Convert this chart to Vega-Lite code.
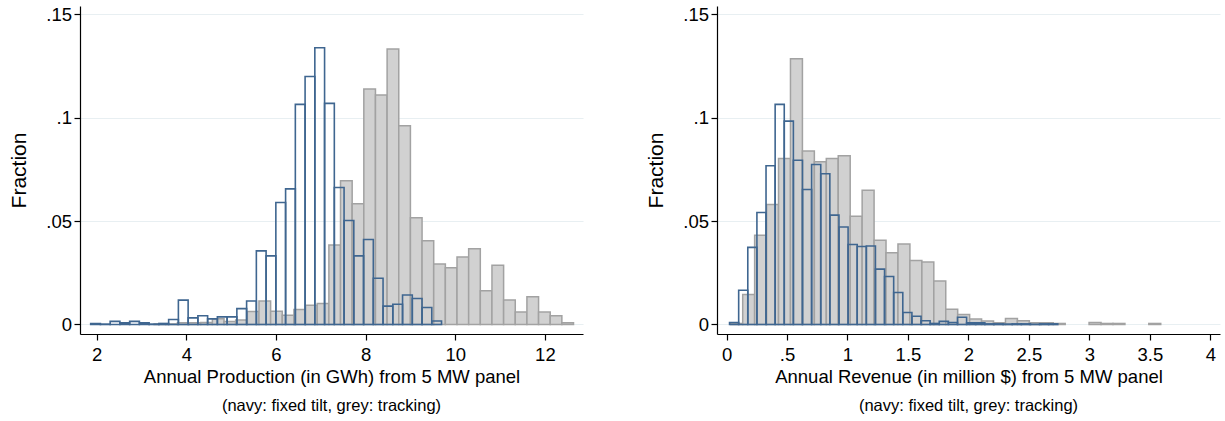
{
  "$schema": "https://vega.github.io/schema/vega-lite/v6.json",
  "padding": {"left": 8, "top": 5, "right": 2, "bottom": 0},
  "background": "white",
  "spacing": 62,
  "config": {
    "view": {"stroke": null},
    "font": "Liberation Sans",
    "axis": {
      "domainColor": "#000000", "tickColor": "#000000", "labelColor": "#000000", "titleColor": "#000000",
      "labelFont": "Liberation Sans", "titleFont": "Liberation Sans", "titleFontWeight": "normal",
      "labelFontSize": 18.5, "tickSize": 6, "domainWidth": 1.2, "tickWidth": 1.2,
      "gridColor": "#e8eff2", "gridWidth": 1.2, "labelOverlap": false, "labelFlush": false
    },
    "title": {"font": "Liberation Sans", "fontWeight": "normal", "fontSize": 16.5, "color": "#000000"}
  },
  "datasets": {
    "production": [
      {"series": "fixed tilt", "lo": 1.866, "hi": 2.0834, "fraction": 0.0004},
      {"series": "fixed tilt", "lo": 2.0834, "hi": 2.3009, "fraction": 0.0002},
      {"series": "fixed tilt", "lo": 2.3009, "hi": 2.5183, "fraction": 0.0015},
      {"series": "fixed tilt", "lo": 2.5183, "hi": 2.7358, "fraction": 0.0008},
      {"series": "fixed tilt", "lo": 2.7358, "hi": 2.9532, "fraction": 0.0015},
      {"series": "fixed tilt", "lo": 2.9532, "hi": 3.1706, "fraction": 0.0008},
      {"series": "fixed tilt", "lo": 3.1706, "hi": 3.3881, "fraction": 0.0002},
      {"series": "fixed tilt", "lo": 3.3881, "hi": 3.6055, "fraction": 0.0005},
      {"series": "fixed tilt", "lo": 3.6055, "hi": 3.823, "fraction": 0.0024},
      {"series": "fixed tilt", "lo": 3.823, "hi": 4.0404, "fraction": 0.0118},
      {"series": "fixed tilt", "lo": 4.0404, "hi": 4.2578, "fraction": 0.0032},
      {"series": "fixed tilt", "lo": 4.2578, "hi": 4.4753, "fraction": 0.0042},
      {"series": "fixed tilt", "lo": 4.4753, "hi": 4.6927, "fraction": 0.0027},
      {"series": "fixed tilt", "lo": 4.6927, "hi": 4.9102, "fraction": 0.0037},
      {"series": "fixed tilt", "lo": 4.9102, "hi": 5.1276, "fraction": 0.0037},
      {"series": "fixed tilt", "lo": 5.1276, "hi": 5.345, "fraction": 0.0077},
      {"series": "fixed tilt", "lo": 5.345, "hi": 5.5625, "fraction": 0.0114},
      {"series": "fixed tilt", "lo": 5.5625, "hi": 5.7799, "fraction": 0.0356},
      {"series": "fixed tilt", "lo": 5.7799, "hi": 5.9974, "fraction": 0.0332},
      {"series": "fixed tilt", "lo": 5.9974, "hi": 6.2148, "fraction": 0.059},
      {"series": "fixed tilt", "lo": 6.2148, "hi": 6.4322, "fraction": 0.0656},
      {"series": "fixed tilt", "lo": 6.4322, "hi": 6.6497, "fraction": 0.1065},
      {"series": "fixed tilt", "lo": 6.6497, "hi": 6.8671, "fraction": 0.12},
      {"series": "fixed tilt", "lo": 6.8671, "hi": 7.0846, "fraction": 0.1339},
      {"series": "fixed tilt", "lo": 7.0846, "hi": 7.302, "fraction": 0.107},
      {"series": "fixed tilt", "lo": 7.302, "hi": 7.5194, "fraction": 0.0663},
      {"series": "fixed tilt", "lo": 7.5194, "hi": 7.7369, "fraction": 0.0503},
      {"series": "fixed tilt", "lo": 7.7369, "hi": 7.9543, "fraction": 0.0332},
      {"series": "fixed tilt", "lo": 7.9543, "hi": 8.1718, "fraction": 0.0411},
      {"series": "fixed tilt", "lo": 8.1718, "hi": 8.3892, "fraction": 0.0224},
      {"series": "fixed tilt", "lo": 8.3892, "hi": 8.6066, "fraction": 0.0089},
      {"series": "fixed tilt", "lo": 8.6066, "hi": 8.8241, "fraction": 0.0098},
      {"series": "fixed tilt", "lo": 8.8241, "hi": 9.0415, "fraction": 0.0143},
      {"series": "fixed tilt", "lo": 9.0415, "hi": 9.259, "fraction": 0.0126},
      {"series": "fixed tilt", "lo": 9.259, "hi": 9.4764, "fraction": 0.0082},
      {"series": "fixed tilt", "lo": 9.4764, "hi": 9.6938, "fraction": 0.0017},
      {"series": "tracking", "lo": 3.2818, "hi": 3.5417, "fraction": 0.0003},
      {"series": "tracking", "lo": 3.5417, "hi": 3.8016, "fraction": 0.0003},
      {"series": "tracking", "lo": 3.8016, "hi": 4.0615, "fraction": 0.0008},
      {"series": "tracking", "lo": 4.0615, "hi": 4.3214, "fraction": 0.0008},
      {"series": "tracking", "lo": 4.3214, "hi": 4.5813, "fraction": 0.001},
      {"series": "tracking", "lo": 4.5813, "hi": 4.8412, "fraction": 0.0028},
      {"series": "tracking", "lo": 4.8412, "hi": 5.1011, "fraction": 0.0015},
      {"series": "tracking", "lo": 5.1011, "hi": 5.361, "fraction": 0.0022},
      {"series": "tracking", "lo": 5.361, "hi": 5.6209, "fraction": 0.0063},
      {"series": "tracking", "lo": 5.6209, "hi": 5.8808, "fraction": 0.0114},
      {"series": "tracking", "lo": 5.8808, "hi": 6.1407, "fraction": 0.0064},
      {"series": "tracking", "lo": 6.1407, "hi": 6.4006, "fraction": 0.0045},
      {"series": "tracking", "lo": 6.4006, "hi": 6.6605, "fraction": 0.0073},
      {"series": "tracking", "lo": 6.6605, "hi": 6.9204, "fraction": 0.0093},
      {"series": "tracking", "lo": 6.9204, "hi": 7.1803, "fraction": 0.0102},
      {"series": "tracking", "lo": 7.1803, "hi": 7.4402, "fraction": 0.0385},
      {"series": "tracking", "lo": 7.4402, "hi": 7.7001, "fraction": 0.0695},
      {"series": "tracking", "lo": 7.7001, "hi": 7.96, "fraction": 0.0584},
      {"series": "tracking", "lo": 7.96, "hi": 8.2199, "fraction": 0.114},
      {"series": "tracking", "lo": 8.2199, "hi": 8.4798, "fraction": 0.111},
      {"series": "tracking", "lo": 8.4798, "hi": 8.7397, "fraction": 0.1333},
      {"series": "tracking", "lo": 8.7397, "hi": 8.9996, "fraction": 0.0961},
      {"series": "tracking", "lo": 8.9996, "hi": 9.2595, "fraction": 0.0516},
      {"series": "tracking", "lo": 9.2595, "hi": 9.5194, "fraction": 0.0405},
      {"series": "tracking", "lo": 9.5194, "hi": 9.7793, "fraction": 0.0293},
      {"series": "tracking", "lo": 9.7793, "hi": 10.0392, "fraction": 0.0274},
      {"series": "tracking", "lo": 10.0392, "hi": 10.2991, "fraction": 0.0327},
      {"series": "tracking", "lo": 10.2991, "hi": 10.559, "fraction": 0.0366},
      {"series": "tracking", "lo": 10.559, "hi": 10.8189, "fraction": 0.0163},
      {"series": "tracking", "lo": 10.8189, "hi": 11.0788, "fraction": 0.0287},
      {"series": "tracking", "lo": 11.0788, "hi": 11.3387, "fraction": 0.0119},
      {"series": "tracking", "lo": 11.3387, "hi": 11.5986, "fraction": 0.0061},
      {"series": "tracking", "lo": 11.5986, "hi": 11.8585, "fraction": 0.0134},
      {"series": "tracking", "lo": 11.8585, "hi": 12.1184, "fraction": 0.006},
      {"series": "tracking", "lo": 12.1184, "hi": 12.3783, "fraction": 0.0042},
      {"series": "tracking", "lo": 12.3783, "hi": 12.6382, "fraction": 0.0008}
    ],
    "revenue": [
      {"series": "fixed tilt", "lo": 0.0248, "hi": 0.1002, "fraction": 0.001},
      {"series": "fixed tilt", "lo": 0.1002, "hi": 0.1756, "fraction": 0.0166},
      {"series": "fixed tilt", "lo": 0.1756, "hi": 0.251, "fraction": 0.0373},
      {"series": "fixed tilt", "lo": 0.251, "hi": 0.3264, "fraction": 0.0542},
      {"series": "fixed tilt", "lo": 0.3264, "hi": 0.4018, "fraction": 0.0768},
      {"series": "fixed tilt", "lo": 0.4018, "hi": 0.4771, "fraction": 0.1065},
      {"series": "fixed tilt", "lo": 0.4771, "hi": 0.5525, "fraction": 0.0984},
      {"series": "fixed tilt", "lo": 0.5525, "hi": 0.6279, "fraction": 0.0795},
      {"series": "fixed tilt", "lo": 0.6279, "hi": 0.7033, "fraction": 0.0653},
      {"series": "fixed tilt", "lo": 0.7033, "hi": 0.7787, "fraction": 0.0774},
      {"series": "fixed tilt", "lo": 0.7787, "hi": 0.8541, "fraction": 0.0729},
      {"series": "fixed tilt", "lo": 0.8541, "hi": 0.9295, "fraction": 0.0529},
      {"series": "fixed tilt", "lo": 0.9295, "hi": 1.0049, "fraction": 0.0472},
      {"series": "fixed tilt", "lo": 1.0049, "hi": 1.0803, "fraction": 0.0387},
      {"series": "fixed tilt", "lo": 1.0803, "hi": 1.1557, "fraction": 0.0377},
      {"series": "fixed tilt", "lo": 1.1557, "hi": 1.231, "fraction": 0.038},
      {"series": "fixed tilt", "lo": 1.231, "hi": 1.3064, "fraction": 0.0268},
      {"series": "fixed tilt", "lo": 1.3064, "hi": 1.3818, "fraction": 0.0232},
      {"series": "fixed tilt", "lo": 1.3818, "hi": 1.4572, "fraction": 0.0155},
      {"series": "fixed tilt", "lo": 1.4572, "hi": 1.5326, "fraction": 0.0058},
      {"series": "fixed tilt", "lo": 1.5326, "hi": 1.608, "fraction": 0.004},
      {"series": "fixed tilt", "lo": 1.608, "hi": 1.6834, "fraction": 0.0018},
      {"series": "fixed tilt", "lo": 1.6834, "hi": 1.7588, "fraction": 0.0005},
      {"series": "fixed tilt", "lo": 1.7588, "hi": 1.8342, "fraction": 0.0015},
      {"series": "fixed tilt", "lo": 1.8342, "hi": 1.9096, "fraction": 0.001},
      {"series": "fixed tilt", "lo": 1.9096, "hi": 1.9849, "fraction": 0.0035},
      {"series": "fixed tilt", "lo": 1.9849, "hi": 2.0603, "fraction": 0.0008},
      {"series": "fixed tilt", "lo": 2.0603, "hi": 2.1357, "fraction": 0.0008},
      {"series": "fixed tilt", "lo": 2.1357, "hi": 2.2111, "fraction": 0.0003},
      {"series": "fixed tilt", "lo": 2.2111, "hi": 2.2865, "fraction": 0.0003},
      {"series": "fixed tilt", "lo": 2.2865, "hi": 2.3619, "fraction": 0.0002},
      {"series": "fixed tilt", "lo": 2.3619, "hi": 2.4373, "fraction": 0.0003},
      {"series": "fixed tilt", "lo": 2.4373, "hi": 2.5127, "fraction": 0.0003},
      {"series": "fixed tilt", "lo": 2.5127, "hi": 2.5881, "fraction": 0.0001},
      {"series": "fixed tilt", "lo": 2.5881, "hi": 2.6635, "fraction": 0.0003},
      {"series": "fixed tilt", "lo": 2.6635, "hi": 2.7388, "fraction": 0.0003},
      {"series": "tracking", "lo": 0.0347, "hi": 0.1335, "fraction": 0.0005},
      {"series": "tracking", "lo": 0.1335, "hi": 0.2322, "fraction": 0.0145},
      {"series": "tracking", "lo": 0.2322, "hi": 0.331, "fraction": 0.0432},
      {"series": "tracking", "lo": 0.331, "hi": 0.4297, "fraction": 0.0581},
      {"series": "tracking", "lo": 0.4297, "hi": 0.5285, "fraction": 0.0803},
      {"series": "tracking", "lo": 0.5285, "hi": 0.6273, "fraction": 0.1286},
      {"series": "tracking", "lo": 0.6273, "hi": 0.726, "fraction": 0.0839},
      {"series": "tracking", "lo": 0.726, "hi": 0.8248, "fraction": 0.0787},
      {"series": "tracking", "lo": 0.8248, "hi": 0.9235, "fraction": 0.0803},
      {"series": "tracking", "lo": 0.9235, "hi": 1.0223, "fraction": 0.0816},
      {"series": "tracking", "lo": 1.0223, "hi": 1.1211, "fraction": 0.0524},
      {"series": "tracking", "lo": 1.1211, "hi": 1.2198, "fraction": 0.065},
      {"series": "tracking", "lo": 1.2198, "hi": 1.3186, "fraction": 0.0407},
      {"series": "tracking", "lo": 1.3186, "hi": 1.4173, "fraction": 0.0347},
      {"series": "tracking", "lo": 1.4173, "hi": 1.5161, "fraction": 0.039},
      {"series": "tracking", "lo": 1.5161, "hi": 1.6149, "fraction": 0.031},
      {"series": "tracking", "lo": 1.6149, "hi": 1.7136, "fraction": 0.0302},
      {"series": "tracking", "lo": 1.7136, "hi": 1.8124, "fraction": 0.0211},
      {"series": "tracking", "lo": 1.8124, "hi": 1.9111, "fraction": 0.0074},
      {"series": "tracking", "lo": 1.9111, "hi": 2.0099, "fraction": 0.0048},
      {"series": "tracking", "lo": 2.0099, "hi": 2.1087, "fraction": 0.0026},
      {"series": "tracking", "lo": 2.1087, "hi": 2.2074, "fraction": 0.0017},
      {"series": "tracking", "lo": 2.2074, "hi": 2.3062, "fraction": 0.0008},
      {"series": "tracking", "lo": 2.3062, "hi": 2.4049, "fraction": 0.0029},
      {"series": "tracking", "lo": 2.4049, "hi": 2.5037, "fraction": 0.0018},
      {"series": "tracking", "lo": 2.5037, "hi": 2.6025, "fraction": 0.0008},
      {"series": "tracking", "lo": 2.6025, "hi": 2.7012, "fraction": 0.0008},
      {"series": "tracking", "lo": 2.7012, "hi": 2.8, "fraction": 0.0005},
      {"series": "tracking", "lo": 2.9975, "hi": 3.0963, "fraction": 0.001},
      {"series": "tracking", "lo": 3.0963, "hi": 3.195, "fraction": 0.0005},
      {"series": "tracking", "lo": 3.195, "hi": 3.2938, "fraction": 0.0005},
      {"series": "tracking", "lo": 3.4913, "hi": 3.59, "fraction": 0.0005}
    ]
  },
  "hconcat": [
    {
      "width": 503,
      "height": 328,
      "data": {"name": "production"},
      "title": {"text": "(navy: fixed tilt, grey: tracking)", "orient": "bottom", "anchor": "middle", "frame": "group", "offset": 12},
      "encoding": {
        "x": {"field": "lo", "type": "quantitative",
              "scale": {"domain": [1.628, 12.85], "nice": false, "zero": false},
              "axis": {"values": [2, 4, 6, 8, 10, 12], "grid": false, "title": "Annual Production (in GWh) from 5 MW panel",
                       "titleFontSize": 18.5, "labelPadding": 5, "titlePadding": 4}},
        "x2": {"field": "hi"},
        "y": {"field": "fraction", "type": "quantitative",
              "scale": {"domain": [-0.0046, 0.1541], "nice": false, "zero": false},
              "axis": {"values": [0, 0.05, 0.1, 0.15], "grid": true, "title": "Fraction", "titleFontSize": 21,
                       "titlePadding": 16, "labelPadding": 2.5,
                       "labelExpr": "datum.value === 0 ? '0' : replace(format(datum.value, '.2~f'), '0.', '.')"}},
        "y2": {"datum": 0}
      },
      "layer": [
        {"transform": [{"filter": "datum.series === 'tracking'"}],
         "mark": {"type": "rect", "fill": "#d1d1d1", "stroke": "#a2a2a2", "strokeWidth": 1.5}},
        {"transform": [{"filter": "datum.series === 'fixed tilt'"}],
         "mark": {"type": "rect", "filled": false, "stroke": "#3f6690", "strokeWidth": 1.6}}
      ]
    },
    {
      "width": 503,
      "height": 328,
      "data": {"name": "revenue"},
      "title": {"text": "(navy: fixed tilt, grey: tracking)", "orient": "bottom", "anchor": "middle", "frame": "group", "offset": 12},
      "encoding": {
        "x": {"field": "lo", "type": "quantitative",
              "scale": {"domain": [-0.079, 4.08], "nice": false, "zero": false},
              "axis": {"values": [0, 0.5, 1, 1.5, 2, 2.5, 3, 3.5, 4], "grid": false, "title": "Annual Revenue (in million $) from 5 MW panel",
                       "titleFontSize": 18.5, "labelPadding": 5, "titlePadding": 4,
                       "labelExpr": "datum.value === 0.5 ? '.5' : format(datum.value, '~g')"}},
        "x2": {"field": "hi"},
        "y": {"field": "fraction", "type": "quantitative",
              "scale": {"domain": [-0.0046, 0.1541], "nice": false, "zero": false},
              "axis": {"values": [0, 0.05, 0.1, 0.15], "grid": true, "title": "Fraction", "titleFontSize": 21,
                       "titlePadding": 16, "labelPadding": 2.5,
                       "labelExpr": "datum.value === 0 ? '0' : replace(format(datum.value, '.2~f'), '0.', '.')"}},
        "y2": {"datum": 0}
      },
      "layer": [
        {"transform": [{"filter": "datum.series === 'tracking'"}],
         "mark": {"type": "rect", "fill": "#d1d1d1", "stroke": "#a2a2a2", "strokeWidth": 1.5}},
        {"transform": [{"filter": "datum.series === 'fixed tilt'"}],
         "mark": {"type": "rect", "filled": false, "stroke": "#3f6690", "strokeWidth": 1.6}}
      ]
    }
  ]
}
